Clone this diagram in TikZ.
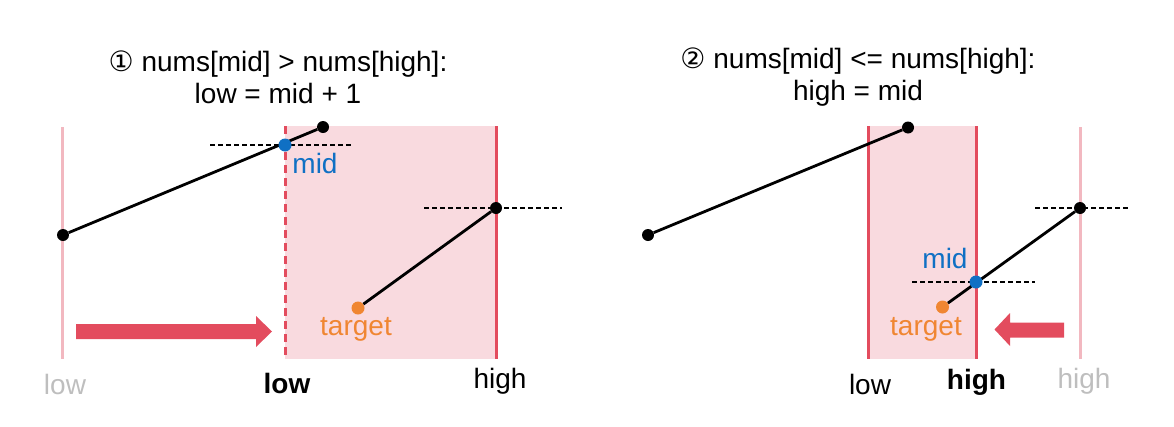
\documentclass[tikz,border=0pt]{standalone}
\usepackage{fontspec}
\setmainfont{Liberation Sans}
\newfontfamily\djv{DejaVu Sans}
\definecolor{pinkfill}{RGB}{249,218,223}
\definecolor{redline}{RGB}{227,76,94}
\definecolor{faint}{RGB}{242,184,192}
\definecolor{graytext}{RGB}{190,190,190}
\definecolor{bluec}{RGB}{16,112,196}
\definecolor{orangec}{RGB}{240,134,50}
\tikzset{
  dot/.style={circle,fill=black,inner sep=0pt,minimum size=12pt},
  bdot/.style={circle,fill=bluec,inner sep=0pt,minimum size=13pt},
  odot/.style={circle,fill=orangec,inner sep=0pt,minimum size=13pt},
  seg/.style={line width=2.8pt,black},
  hdash/.style={line width=1.5pt,black,dash pattern=on 5pt off 3pt},
  bound/.style={line width=3pt,redline},
  faintline/.style={line width=3pt,faint},
  lbl/.style={font=\fontsize{28}{32}\selectfont,inner sep=0pt},
  title/.style={font=\fontsize{28}{32}\selectfont,align=center,inner sep=0pt},
  fatarrow/.style={fill=redline}
}
\begin{document}
\begin{tikzpicture}[x=1pt,y=-1pt]
\useasboundingbox (0,0) rectangle (1174,426);
% ---------- titles
\node[title] (t1) at (278,77) {{\djv ①} nums[mid] > nums[high]:\\low = mid + 1};
\node[title] (t2) at (858,77) {{\djv ②} nums[mid] <= nums[high]:\\high = mid};
% ---------- left panel
\fill[pinkfill] (285,126) rectangle (496,359);
\draw[faintline] (62.5,127) -- (62.5,359);
\draw[bound,dash pattern=on 8pt off 5pt] (285,126) -- (285,359);
\draw[bound] (496,126) -- (496,359);
\node[dot] (La) at (63,235) {};
\node[dot] (Lb) at (323,127) {};
\node[odot] (Lt) at (358,308) {};
\node[dot] (Lh) at (496,208) {};
\coordinate (Ld1) at (210,145);
\coordinate (Ld2) at (352,145);
\coordinate (Le1) at (424,208);
\coordinate (Le2) at (562,208);
\draw[hdash] (Ld1) -- (Ld2);
\draw[hdash] (Le1) -- (Le2);
\draw[seg] (La) -- (Lb);
\draw[seg] (Lt) -- (Lh);
\node[bdot] (Lm) at (285,145) {};
\node[lbl,text=bluec] (Lml) at (315,163) {mid};
\node[lbl,text=orangec] (Ltl) at (356,329) {target};
\fill[fatarrow] (76,324) -- (256,324) -- (256,316) -- (272,331.5) -- (256,347) -- (256,339) -- (76,339) -- cycle;
\node[lbl,text=graytext] (Llow0) at (65,384) {low};
\node[lbl,font=\fontsize{28}{32}\selectfont\bfseries] (Llow1) at (287,383) {low};
\node[lbl] (Lhigh) at (500,381) {high};
% ---------- right panel
\fill[pinkfill] (868,126) rectangle (976,359);
\draw[bound] (868,126) -- (868,359);
\draw[bound] (976,126) -- (976,359);
\draw[faintline] (1080,127) -- (1080,359);
\node[dot] (Ra) at (648,235) {};
\node[dot] (Rb) at (908,127.5) {};
\node[odot] (Rt) at (942.5,307) {};
\node[dot] (Rh) at (1080,208) {};
\coordinate (Rd1) at (912,282);
\coordinate (Rd2) at (1035,282);
\coordinate (Re1) at (1035,208);
\coordinate (Re2) at (1130,208);
\draw[hdash] (Rd1) -- (Rd2);
\draw[hdash] (Re1) -- (Re2);
\draw[seg] (Ra) -- (Rb);
\draw[seg] (Rt) -- (Rh);
\node[bdot] (Rm) at (976,282) {};
\node[lbl,text=bluec] (Rml) at (945,258) {mid};
\node[lbl,text=orangec] (Rtl) at (926,329) {target};
\fill[fatarrow] (1064,322.5) -- (1010,322.5) -- (1010,313) -- (994.5,329.5) -- (1010,346) -- (1010,337.5) -- (1064,337.5) -- cycle;
\node[lbl] (Rlow) at (870,384) {low};
\node[lbl,font=\fontsize{28}{32}\selectfont\bfseries] (Rhigh1) at (976.5,382) {high};
\node[lbl,text=graytext] (Rhigh0) at (1084,381) {high};
\end{tikzpicture}
\end{document}
